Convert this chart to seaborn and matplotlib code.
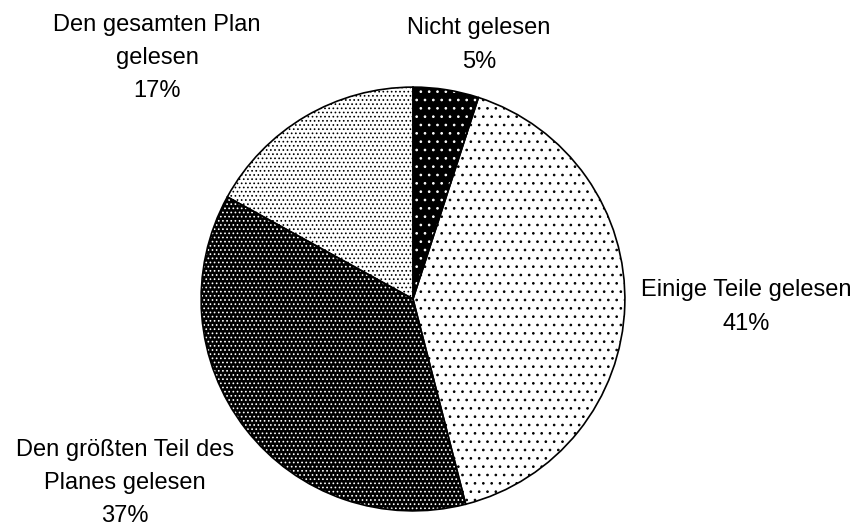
import matplotlib
matplotlib.use("Agg")
import matplotlib.pyplot as plt
import seaborn as sns

# data
categories = ["Nicht gelesen", "Einige Teile gelesen",
              "Den größten Teil des\nPlanes gelesen", "Den gesamten Plan\ngelesen"]
shares = [5, 41, 37, 17]

# styling per slice: (face colour, dot colour, hatch)
faces = ["black", "white", "black", "white"]
dots = ["white", "black", "white", "black"]
hatches = ["..", "..", "....", "...."]

# label anchor points in pixels (x, y from top)
label_pos = [(479, 45), (746, 307), (125, 483), (157, 58)]

sns.set_theme(style="white")
plt.rcParams["font.family"] = ["Liberation Sans", "DejaVu Sans"]
plt.rcParams["hatch.linewidth"] = 0.7

W, H = 859, 528
fig = plt.figure(figsize=(W / 100, H / 100), dpi=100)
cx, cy, r = 413, 299, 214
ax = fig.add_axes([(cx - r) / W, (H - cy - r) / H, 2 * r / W, 2 * r / H])

wedges, _ = ax.pie(shares, startangle=90, counterclock=False, radius=1,
                   wedgeprops=dict(linewidth=0))
for w, fc, dc, h in zip(wedges, faces, dots, hatches):
    w.set_facecolor(fc)
    w.set_edgecolor(dc)
    w.set_hatch(h)

# outlines on top
outline, _ = ax.pie(shares, startangle=90, counterclock=False, radius=1,
                    wedgeprops=dict(fill=False, edgecolor="black", linewidth=1.2))

ax.set_xlim(-1.01, 1.01)
ax.set_ylim(-1.01, 1.01)
ax.axis("off")

for cat, val, (px, py) in zip(categories, shares, label_pos):
    fig.text(px / W, 1 - py / H, f"{cat}\n{val}%", ha="center", va="center",
             fontsize=17, linespacing=1.65, color="black")

fig.savefig("out.png", dpi=100)
